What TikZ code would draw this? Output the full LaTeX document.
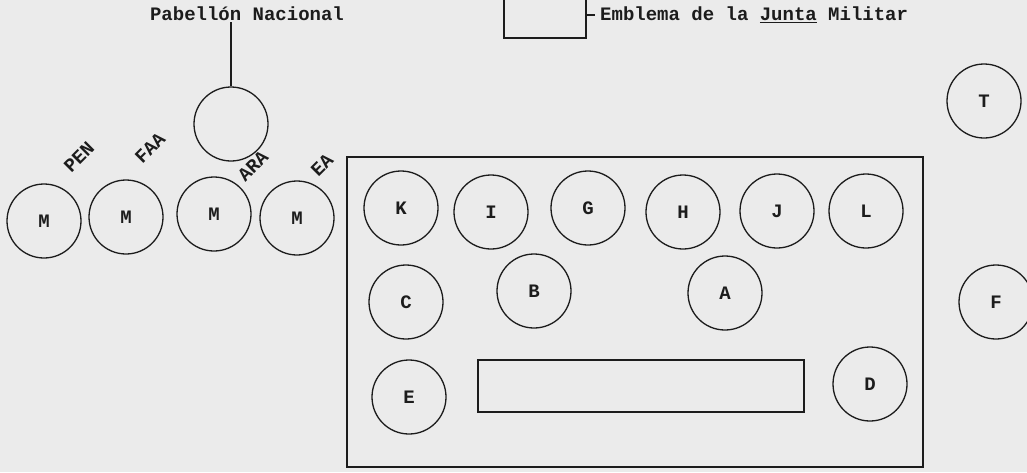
\documentclass[tikz,border=0pt]{standalone}
\usepackage{fontspec}
\setmonofont{Liberation Mono}
\usepackage{tikz}
\usetikzlibrary{positioning}
\definecolor{paperGray}{HTML}{EBEBEB}
\definecolor{inkBlack}{HTML}{1C1C1C}

\begin{document}
\begin{tikzpicture}[x=1pt, y=-1pt, font=\ttfamily\bfseries\fontsize{19}{22}\selectfont,
  ink/.style={draw=inkBlack, line width=1.3pt},
  seat/.style={ink, circle, minimum size=74pt, inner sep=0pt, text=inkBlack},
  tag/.style={rotate=45, text=inkBlack, inner sep=0pt}]
  \fill[paperGray] (0,0) rectangle (1027,472);
  \useasboundingbox (0,0) rectangle (1027,472);
  % flag and emblem
  \node[text=inkBlack, inner sep=1pt] (pabellon) at (247,14) {Pabellón Nacional};
  \node[seat] (flag) at (231,124) {};
  \draw[ink] (flag.north) -- (flag.north |- pabellon.south);
  \node[ink, minimum width=82pt, minimum height=52pt, inner sep=0pt] (emblema) at (545,12) {};
  \node[text=inkBlack, anchor=west, inner sep=0pt] (emblematxt) at (600,15) {Emblema de la \underline{Junta} Militar};
  \draw[ink] (emblema.east |- emblematxt.west) -- ++(8,0);
  % row of M seats with their tags
  \foreach \n/\x/\y in {m1/44/221, m2/126/217, m3/214/214, m4/297/218} {\node[seat] (\n) at (\x,\y) {M};}
  \node[tag] (pen) at (79,157) {PEN};
  \node[tag] (faa) at (150,148) {FAA};
  \node[tag] (ara) at (253,166) {ARA};
  \node[tag] (ea) at (322,165) {EA};
  % table
  \draw[ink] (347,157) rectangle (923,467);
  \foreach \n/\x/\y in {K/401/208, I/491/212, G/588/208, H/683/212, J/777/211, L/866/211} {\node[seat] (\n) at (\x,\y) {\n};}
  \foreach \n/\x/\y in {C/406/302, B/534/291, A/725/293, E/409/397, D/870/384} {\node[seat] (\n) at (\x,\y) {\n};}
  \draw[ink] (478,360) rectangle (804,412);
  % outside the table
  \node[seat] (T) at (984,101) {T};
  \node[seat] (F) at (996,302) {F};
\end{tikzpicture}
\end{document}
